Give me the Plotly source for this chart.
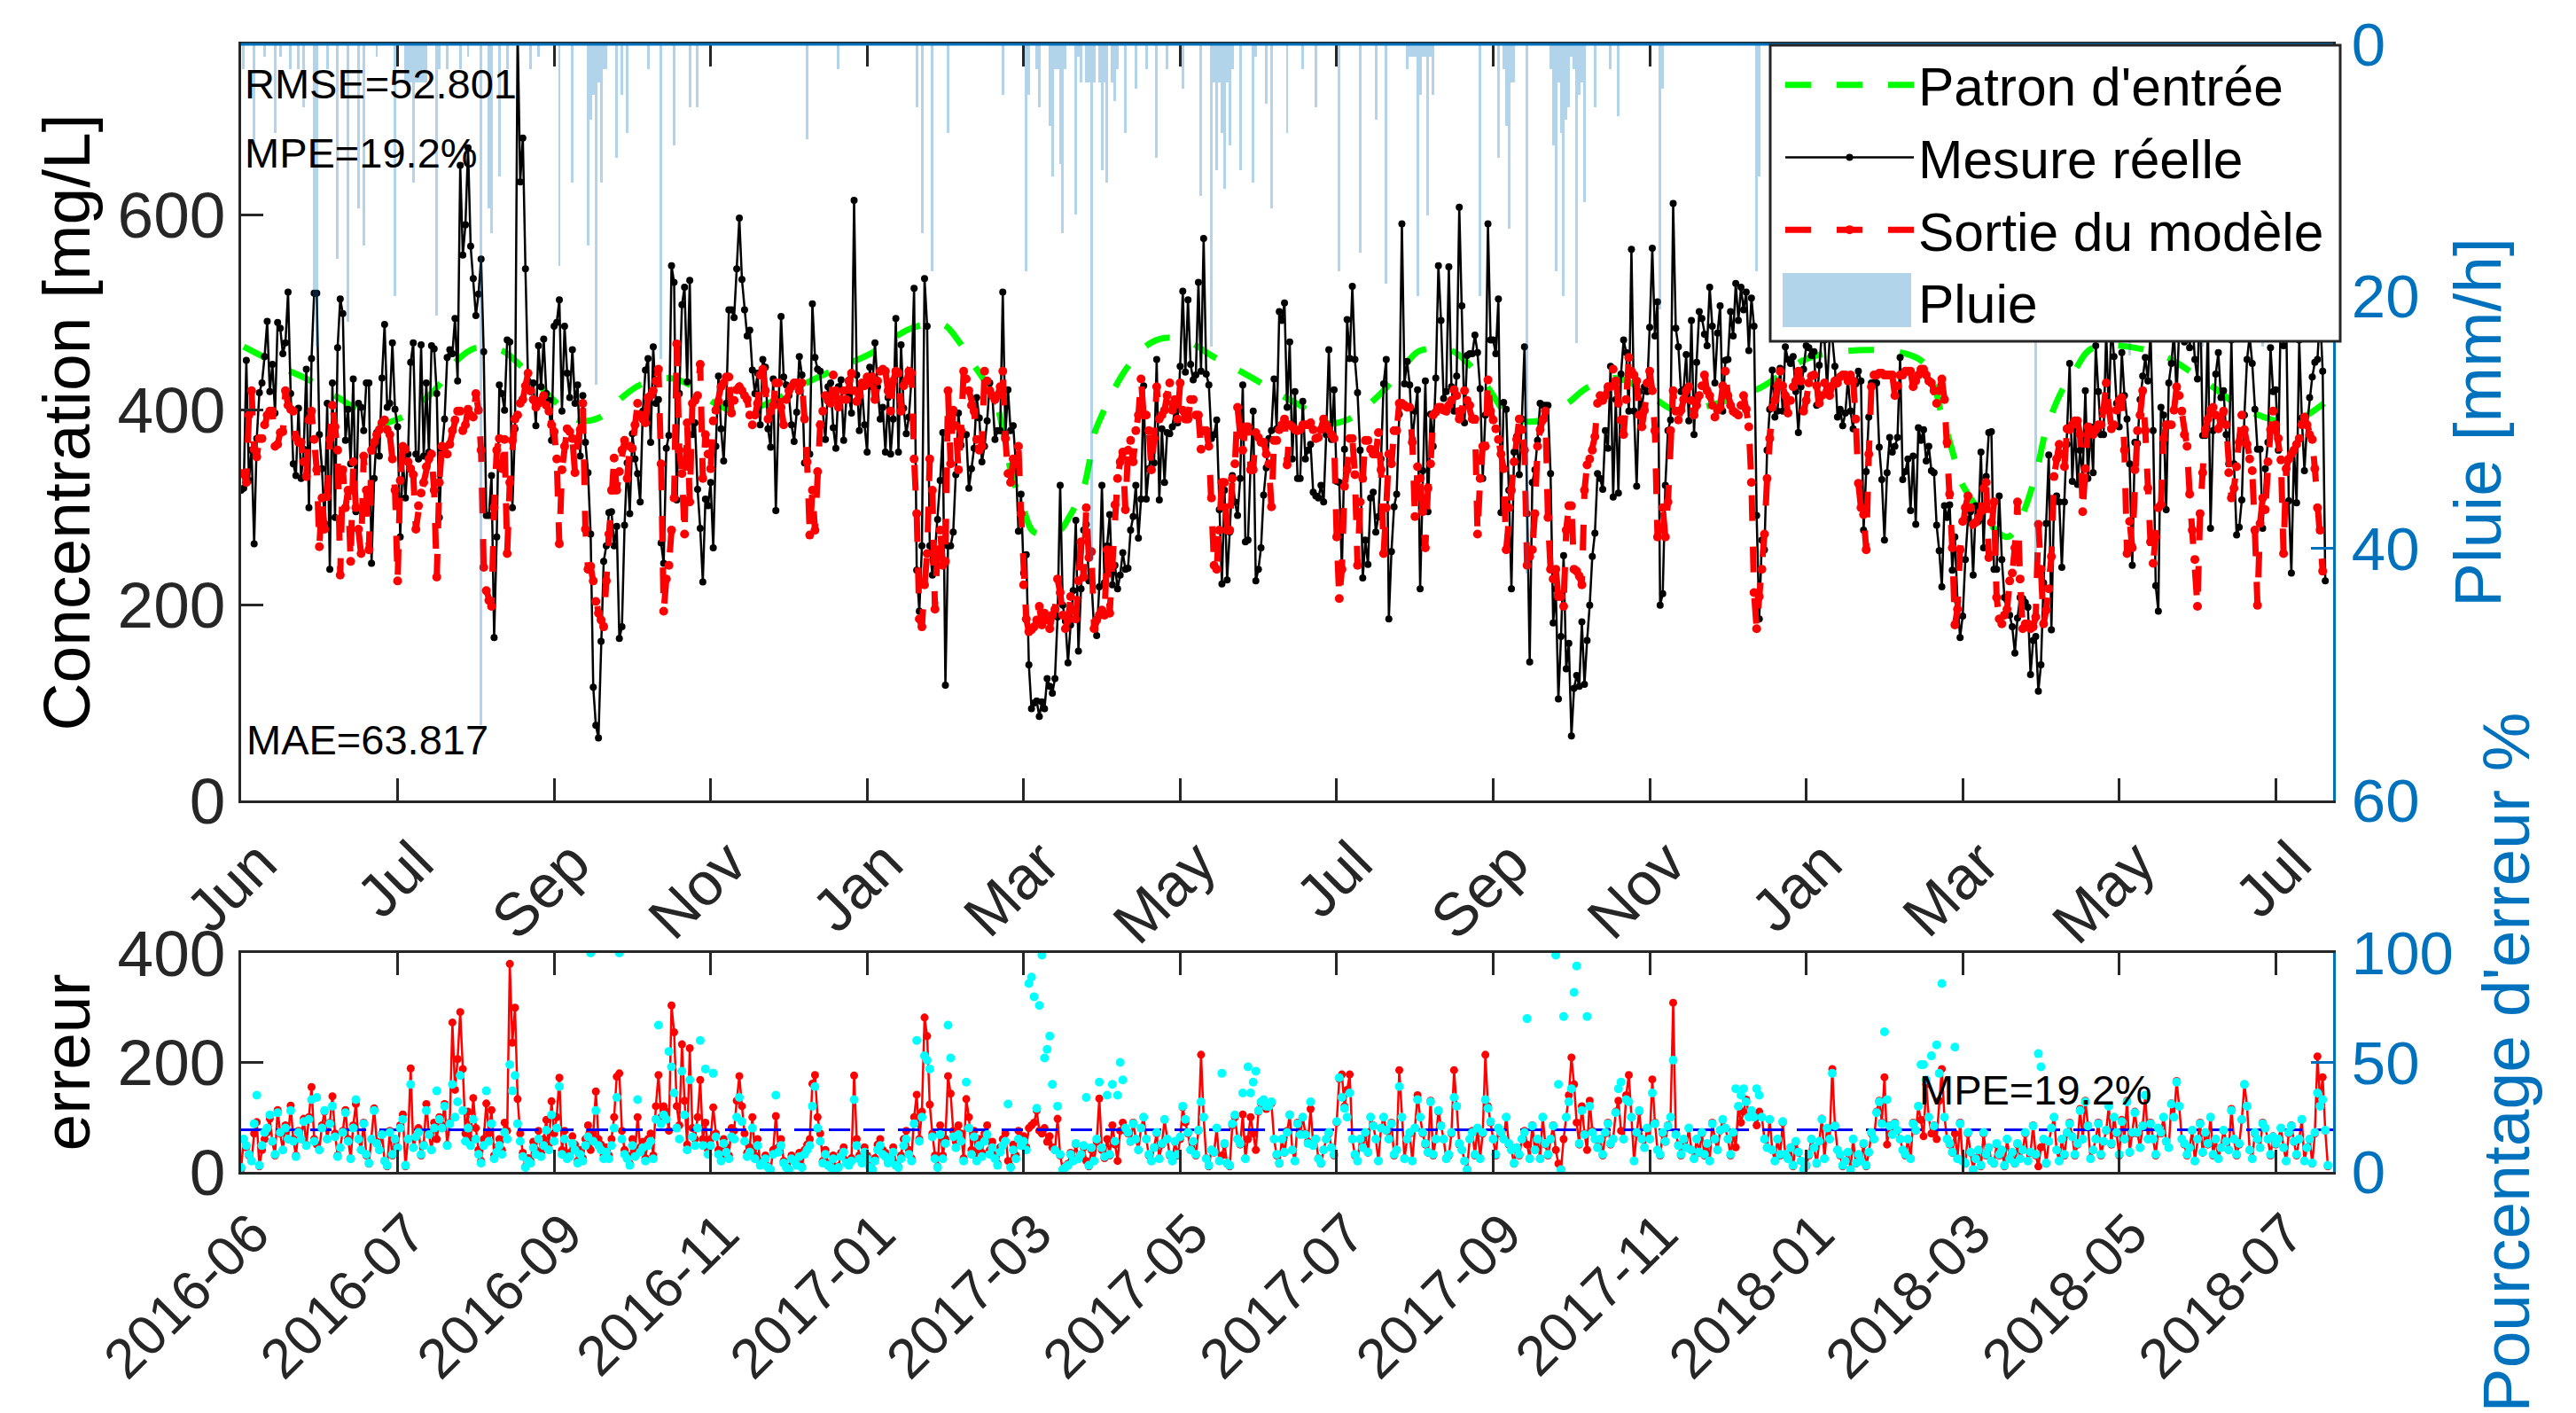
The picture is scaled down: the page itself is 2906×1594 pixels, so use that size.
import plotly.graph_objects as go

TICK_STEP_LABELS_TOP = ["Jun","Jul","Sep","Nov","Jan","Mar","May","Jul","Sep","Nov","Jan","Mar","May","Jul"]
TICK_LABELS_BOTTOM = ["2016-06","2016-07","2016-09","2016-11","2017-01","2017-03","2017-05","2017-07","2017-09","2017-11","2018-01","2018-03","2018-05","2018-07"]
TICK_SAMPLES = [0,60,120,180,240,300,360,420,480,540,600,660,720,780]

mesure_a = [318,320,451,328,359,263,371,418,428,455,
 491,419,447,397,490,484,458,469,521,417,345,
 333,402,330,360,442,300,453,520,520,375,340,284,407,
 237,428,290,464,514,499,369,401,345,432,296,407,
 403,379,428,428,243,330,377,353,433,488,403,
 407,469,401,383,270,350,310,355,449,469,355,
 350,467,353,428,357,466,463,417,290,359,
 391,454,462,458,494,430,651,559,590,669,
 568,535,497,519,555,460,292,292,333,167,
 270,426,417,400,472,470,300,381,790,634,
 679,545,430,419,428,384,466,424,473,417,410,
 369,486,490,513,399,486,438,413,462,407,
 426,353,415,367,336,273,116]
mesure_b = [77,64,163,245,261,295,296,261,281,166,178,282,346,294,376,350,335,306,399,441,453,367,465,407,411,264,243,361,374,548,531,308,417,508,526,429,533,375,387,319,279,224,309,302,326,259,363,435,381,348,407,503,503,495,545,597,534,503,476,482,441,417,438,385,452,444,381,362,432,297,407,496,434,426,415,385,368,398,455,436,346,355,355,509,454,442,440,399,370,424,428,382,361,424,431,369,411,415,397,615,436,379,424,385,357,444,424,469,424,391,403,357,413,355,391,494,357,467,402,376,393,432,525,236,194,261,535,486,261,231,255,288,328,377,118]
mesure_c = [261,261,275,334,397,364,375,375,320,340,361,413,392,347,363,389,428,415,370,379,379,521,375,421,379,384,346,276,314,233,252,139,94,100,102,86,101,94,125,117,110,125,188,323,200,184,141,180,215,287,153,217,277,283,225,225,176,169,219,323,223,261,293,221,241,217,231,254,237,238,277,291,323,269,309,425,309,340,358,346,452,308,381,326,377,376,383,401,387,445,522,439,513,447,431,436,531,440,576,437,426,371,375,390,298,222,318,226,275,333,306,292,330,426,265,267,344,399,225,237,259,313,341,371,379,432,381,501,492,510,403,470,350,419,330]
mesure_d = [330,409,350,359,365,316,312,310,323,306,375,462,370,421,327,326,236,360,493,453,527,452,418,359,228,267,242,310,316,275,291,350,427,452,186,255,301,314,396,591,427,450,426,370,399,421,217,338,430,296,396,363,433,548,492,412,419,547,424,399,435,608,507,387,456,458,458,477,459,422,330,395,591,472,472,458,514,295,408,401,318,217,357,373,334,391,465,294,142,326,339,369,407,405,405,405,335,182,217,104,168,251,135,161,66,115,128,117,183,119,164,200,250,274,335,330,319,379,361,445,311,411,315,437,472,459,399,565,399,322,419,403,424,419,485,566]
mesure_e = [476,511,200,212,323,379,390,612,484,465,419,421,457,389,492,375,449,501,494,478,466,526,486,428,479,507,399,451,452,501,476,530,492,526,503,521,461,515,486,292,186,267,257,359,401,441,393,399,443,399,465,452,448,455,419,377,424,442,466,464,456,460,405,446,480,472,424,474,474,445,393,401,384,397,432,399,381,427,440,430,277,337,393,428,428,428,362,329,267,336,372,357,363,372,454,329,337,350,297,353,283,382,369,380,348,363,338,336,282,256,219,302,290,303,236,270,204,167,189,247,288,296,231,302,286,357,259,332,377,378,237,237,312,247,208]
mesure_f = [205,190,178,151,187,208,207,203,198,129,164,168,112,139,223,284,354,175,306,312,306,239,306,365,448,327,383,324,359,331,420,330,383,336,466,419,375,375,480,399,488,455,407,383,459,415,391,345,241,367,366,411,435,454,430,480,379,220,194,403,395,298,428,448,480,415,484,500,470,510,464,495,452,432,520,374,374,490,279,379,437,459,413,420,375,345,472,345,272,280,308,395,452,476,448,401,360,360,279,340,367,464,419,421,359,510,466,500,307,233,359,305,472,392,338,385,413,434,449,452,501,440,225]
mesure = mesure_a + mesure_b + mesure_c + mesure_d + mesure_e + mesure_f

sortie_a = [335,335,326,395,420,360,352,371,371,385,395,399,399,363,365,377,378,420,405,401,399,372,367,367,347,332,390,399,370,339,260,310,278,312,370,405,383,359,231,339,300,318,245,347,300,278,253,353,318,257,359,367,375,380,387,390,380,375,350,318,225,328,363,360,347,340,334,278,302,315,326,342,350,355,318,229,326,363,362,355,365,379,390,399,399,379,385,401,395,393,417,400,359,239,215,205,199,300,359,371,340,370,253,326,369,391,395,407,411,425,438,420,411,403,407,410,415,405,399,385,378,350,263,339,363,381,378,371,336,369,380,407,278,237,240]
sortie_b = [225,204,192,185,178,225,273,318,351,318,337,359,369,330,363,361,385,407,395,391,387,413,415,420,430,442,345,194,227,241,277,310,468,359,335,273,387,306,407,410,415,447,330,375,355,340,389,400,409,424,428,434,434,397,410,421,424,420,415,411,395,385,395,407,436,442,420,391,399,405,428,428,403,385,411,420,424,428,428,420,428,391,347,272,318,277,337,385,399,415,410,407,436,420,403,411,420,411,430,438,420,409,415,428,425,434,428,434,411,430,440,442,440,420,399,430,440,438,399,425,430,440,438,350,294,186,178,221,253,350,318,196,257,277,241]
sortie_c = [245,420,345,400,384,339,379,440,432,420,405,399,370,359,363,440,430,420,415,411,415,424,440,371,335,326,350,345,363,294,221,186,173,175,178,185,199,180,192,185,176,190,196,227,213,190,176,185,209,195,186,225,265,229,300,249,255,176,185,190,195,190,257,192,241,303,330,347,357,298,359,369,347,379,395,432,395,395,379,339,371,424,391,395,400,415,428,400,411,391,428,400,391,391,411,411,395,395,360,379,379,363,310,241,237,277,326,326,277,277,330,345,403,375,359,383,383,339,339,377,372,367,367,355,345,301,369,369,380,385,391,344,385,383,380]
sortie_d = [379,380,385,385,385,387,380,371,372,380,391,385,380,375,371,270,207,237,322,339,371,371,334,241,306,330,369,369,360,355,355,377,339,253,300,355,345,379,379,407,407,405,403,403,367,291,342,330,296,259,320,345,395,398,403,403,400,399,405,410,421,415,391,400,420,410,405,391,391,273,330,363,363,431,399,390,381,370,355,340,257,300,318,347,370,391,380,359,241,250,257,294,363,380,390,399,290,237,227,237,209,209,199,277,302,302,237,235,230,221,318,344,350,359,373,407,415,410,415,424,424,442,430,407,390,375,411,454,440,436,430,395,383,400,428]
sortie_e = [440,420,379,270,280,300,270,306,379,420,399,390,400,411,420,424,410,395,405,415,425,436,420,415,405,393,400,403,425,440,415,405,399,397,395,405,415,401,383,326,213,176,209,237,273,330,371,403,410,425,440,425,415,397,410,424,430,440,430,399,410,428,435,436,425,407,415,428,420,415,425,430,428,434,436,436,430,436,430,391,325,300,293,257,355,424,436,436,438,438,436,436,436,436,415,425,436,436,440,440,440,424,430,436,442,442,436,430,428,420,407,420,432,411,367,314,259,180,196,257,286,300,312,300,283,285,290,296,320,326,249,285,306,208,186]
sortie_f = [181,190,196,225,233,259,306,227,176,181,181,176,178,188,283,237,181,195,217,250,332,350,365,355,342,381,380,385,389,389,375,296,340,383,380,375,380,385,385,400,428,400,381,385,400,410,413,359,253,286,259,339,379,395,420,379,320,265,243,270,300,303,371,385,385,385,400,424,415,399,375,363,314,277,247,199,294,336,380,391,400,403,395,381,390,399,385,336,310,320,342,367,395,380,365,350,338,277,200,284,310,298,347,380,399,385,371,349,253,340,350,355,359,365,371,385,393,385,375,370,340,300,277,235]
sortie = sortie_a + sortie_b + sortie_c + sortie_d + sortie_e + sortie_f

patron_x = [1,9,18,26,36,43,53,61,70,76,82,90,100,107,117,129,137,146,153,164,172,181,188,200,219,234,242,257,269,275,281,286,290,295,300,304,313,318,323,325,327,330,335,339,346,354,364,372,381,389,399,406,416,424,432,439,447,452,464,470,478,487,499,509,516,527,534,543,550,580,604,644,652,657,660,677,682,688,692,698,703,710,734,751,767,779,786,799]
patron_y = [465,454,441,431,415,403,387,392,410,426,449,464,461,446,418,390,392,413,426,433,426,408,400,405,431,449,459,484,488,471,446,426,403,339,298,275,275,293,321,344,375,395,423,441,464,474,469,456,443,431,415,405,387,390,405,423,449,461,461,449,423,392,390,408,423,433,426,410,400,420,456,451,395,349,323,270,288,334,380,420,441,464,459,433,403,390,387,408]

pluie_x = [1,5,9,13,15,19,22,24,28,29,33,37,41,45,47,52,59,63,64,65,66,67,68,69,70,71,75,76,79,84,87,92,95,96,99,102,111,114,122,127,133,134,135,136,137,138,139,140,144,146,148,156,161,166,172,175,217,229,259,261,265,271,292,301,302,305,306,310,311,314,315,320,321,325,326,330,332,335,339,343,347,351,355,361,368,372,374,376,377,379,383,388,389,393,395,401,407,412,421,429,435,439,447,451,452,455,457,475,482,485,486,493,503,504,505,507,510,512,515,519,525,528,544,545,581,582,688,724,752,775,
 312,313,316,322,324,327,329,331,334,336,373,375,378,380,448,449,450,453,454,456,484,487,488,502,506,508,509,511,513,514]
pluie_y = [2,8.5,1,7,1,2,2,5,20,24,2,17,22,13,16,1,20,3,3,3,11,3,3,3,3,3,21.5,2,2,2,1,54,13,15,10.5,2,2,1,17.6,11,16,6,4,27,3,11,2,2,9,4,7,2,25,8,5,5,7.5,2,5,15,18,7,4,18,4,2,5,6.5,10.5,9.5,15,13.5,1,3,41,10,11,4.5,7,3.5,2,9,2,3.5,12,24,10,7,11.5,8,10,11,1,4.7,13,7,2,5,18,16.5,6,19,2,20,4,13.6,4,20,9,6.5,14.6,42,8,18,3,20,1,23.7,12.5,5,2,5.7,21,3.5,18,10.5,41,24.7,24,24,
 2,2,2,3,3,3,3,3,3,2,3,3,3,2,1,1,1,1,1,1,2,3,3,2,7,6,5,2,4,3]

erreur = [5,60,45,30,20,70,91,10,40,60,72,97,55,30,113,70,40,85,60,121,
 60,30,75,60,97,50,100,155,60,50,40,85,110,60,90,138,70,30,45,75,
 113,60,25,85,124,60,40,90,30,15,60,116,55,40,70,20,10,75,30,60,
 45,85,105,10,60,189,45,65,80,30,50,124,70,40,90,60,100,85,124,50,
 90,273,150,206,292,188,70,110,60,135,80,40,20,60,125,70,113,30,45,60,
 40,90,75,380,236,300,133,70,35,10,25,20,55,40,75,35,60,95,50,129,
 70,100,172,40,75,30,35,65,50,20,40,25,60,85,40,70,147,60,50,30,
 45,30,60,100,174,180,75,40,30,15,60,35,100,45,55,25,60,70,30,120,
 177,100,120,110,75,304,255,120,85,233,130,50,226,80,60,100,168,60,90,40,
 60,118,70,40,25,60,45,30,80,75,130,175,120,70,35,45,100,30,60,15,
 20,30,10,5,40,102,45,60,20,10,5,30,25,15,35,10,40,50,60,161,
 177,100,70,20,40,15,10,30,5,10,35,45,20,15,25,176,60,30,20,45,
 30,10,5,25,50,60,40,35,20,30,45,15,10,30,60,75,40,25,100,141,
 60,110,282,248,123,70,30,10,85,30,60,175,143,75,55,85,70,25,133,100,
 40,75,25,60,35,70,85,40,55,30,15,45,60,70,20,10,50,30,75,60,
 65,45,80,85,90,112,75,70,80,55,65,45,40,97,30,5,10,15,35,20,
 50,25,30,45,20,10,40,20,55,134,40,25,60,30,85,50,20,75,90,75,
 70,55,90,60,40,80,100,60,30,20,45,70,25,50,95,60,30,20,55,30,
 60,118,90,70,40,55,30,75,214,100,25,10,40,35,80,20,30,50,15,10,
 85,100,60,50,105,25,60,100,70,40,110,125,130,115,120,125,60,30,15,60,
 35,75,105,40,20,90,70,100,70,55,115,50,60,25,15,40,60,70,45,30,
 90,170,178,120,150,178,60,30,20,60,45,70,35,100,85,60,20,80,100,75,
 60,90,30,40,186,100,25,60,70,20,80,140,100,70,50,35,130,30,60,110,
 85,60,25,30,70,186,120,50,40,20,5,60,75,30,80,25,70,214,120,90,
 60,30,80,70,60,100,50,40,15,45,30,60,75,50,25,85,40,60,25,100,
 50,30,60,85,40,15,5,60,100,140,209,160,90,50,120,70,40,130,75,60,
 45,60,30,70,90,50,60,110,130,75,60,140,177,100,20,70,110,60,45,80,
 60,169,90,40,30,70,55,85,100,309,70,50,30,60,45,80,40,25,60,35,
 70,30,50,20,90,60,40,75,95,80,60,30,70,45,120,90,110,132,105,110,
 100,85,110,100,60,45,95,40,20,60,30,90,30,25,45,10,55,35,20,5,
 10,30,60,45,15,55,97,25,80,60,188,85,40,30,10,20,35,5,60,15,
 30,20,50,10,35,70,60,110,130,90,173,50,85,70,90,75,60,40,30,60,
 25,90,75,120,95,65,160,100,70,85,60,130,188,100,60,50,35,70,25,90,
 20,15,70,35,5,25,40,10,70,30,45,20,15,50,30,40,10,60,25,35,
 15,50,25,40,70,20,35,85,30,10,45,60,15,55,80,100,40,20,60,30,
 70,90,65,30,50,115,60,130,85,25,40,60,90,30,55,75,120,50,100,70,
 30,95,60,130,35,70,110,70,45,85,140,60,90,60,30,80,70,100,55,45,
 125,100,166,120,60,50,30,45,75,20,60,90,35,70,50,100,30,60,25,45,
 75,55,40,115,60,30,50,95,160,120,40,25,70,60,45,90,80,60,30,65,
 50,60,80,45,20,70,85,55,30,60,95,20,45,60,15,70,211,130,173,75,10]

pourcentage = [2,15,12,8,5,22,35,3,12,18,20,26,14,8,27,18,10,20,15,28,
 14,7,18,15,23,12,24,33,14,34,10,20,28,15,22,30,16,7,11,18,
 27,14,6,20,33,15,10,22,8,4,15,28,13,10,17,5,3,18,8,15,
 11,20,24,3,15,40,11,16,18,8,12,28,17,10,20,37,24,20,30,12,
 22,40,25,32,44,28,14,20,12,24,15,8,4,12,37,14,22,6,9,12,
 8,18,15,49,37,44,22,14,7,2,5,4,11,8,15,7,12,19,10,26,
 14,20,39,8,15,6,7,13,10,4,8,5,12,16,100,14,28,12,10,6,
 9,6,12,20,34,100,15,8,6,3,12,7,33,9,11,5,12,14,6,24,
 67,22,26,24,55,48,36,20,15,46,26,10,42,16,12,20,60,12,47,8,
 12,45,16,8,5,13,9,6,16,15,25,34,23,14,7,9,20,6,12,3,
 4,6,2,1,8,35,9,12,4,2,1,6,5,3,7,2,8,10,12,30,
 39,20,14,4,8,3,2,6,1,2,7,9,4,3,5,33,12,6,4,9,
 6,2,1,5,10,12,8,7,4,6,9,3,2,6,12,15,8,5,22,60,
 14,25,53,51,47,16,6,2,17,6,13,67,52,16,11,17,14,5,41,20,
 8,16,5,12,7,14,17,8,11,6,3,9,12,14,31,2,10,6,15,12,
 14,10,86,89,80,29,76,99,52,56,62,40,10,30,8,1,2,3,8,5,
 13,6,8,12,34,3,11,5,15,41,11,7,35,8,40,14,35,50,42,20,
 18,14,22,15,10,20,25,15,8,5,11,18,6,13,24,15,8,5,14,8,
 16,30,24,18,10,14,8,19,32,25,6,3,10,9,20,5,45,13,4,3,
 22,26,15,13,36,6,48,36,41,46,28,32,33,30,30,32,15,8,4,15,
 9,18,26,10,5,22,17,25,17,13,32,12,15,6,4,10,15,18,11,8,
 23,43,34,29,25,36,15,8,5,15,11,18,9,25,21,15,5,20,25,19,
 15,22,8,10,39,25,6,15,18,5,20,33,25,18,13,9,32,8,15,28,
 21,15,6,8,18,34,30,13,10,5,1,15,18,8,20,6,18,33,29,23,
 15,8,20,18,15,25,13,10,4,11,8,15,18,70,6,21,10,15,6,25,
 13,8,15,21,99,40,1,71,25,32,38,82,94,13,28,17,71,30,18,15,
 11,15,8,18,22,13,15,27,38,41,15,33,32,25,5,18,28,15,11,20,
 15,36,22,10,8,18,14,21,25,51,17,12,8,15,11,20,10,6,15,9,
 18,8,13,5,22,15,10,19,24,20,15,8,18,38,30,35,38,32,25,28,
 25,38,35,25,15,11,24,10,5,15,8,23,8,6,11,3,14,9,5,1,
 3,8,15,11,4,14,24,6,20,15,45,21,10,8,3,5,9,1,15,4,
 8,5,13,3,9,18,15,27,32,22,64,33,21,17,22,19,15,10,8,15,
 6,22,19,30,49,49,42,25,53,21,58,45,86,25,15,13,9,57,6,22,
 5,4,18,9,1,6,10,3,18,8,11,5,4,13,8,10,3,15,6,9,
 4,13,6,10,18,5,9,21,8,54,48,15,4,14,20,25,10,5,15,8,
 18,22,16,8,13,28,15,32,21,6,10,15,22,8,14,19,30,13,25,18,
 8,23,15,32,9,18,27,18,11,21,35,15,22,15,8,20,18,25,14,11,
 31,25,41,30,15,13,8,11,19,5,15,22,9,18,13,25,8,15,6,11,
 19,14,10,28,15,8,13,24,40,30,10,6,18,15,11,22,20,15,8,16,
 13,15,20,11,5,18,21,14,8,15,24,5,11,15,4,18,36,30,33,19,3]

MPE_LEVEL = [19.2, 19.2]
X_LIMITS = [0, 802]

WIDTH, HEIGHT = 2906, 1594
L, R, T, B = 272, 2632, 50, 1322
PAGE = 8  # default page margin of the browser
def px(x): return (x - L) / (R - L)
def py(y): return (B - y) / (B - T)

FONT = "Liberation Sans"
DARK = "#262626"
BLUE = "#0072BD"

fig = go.Figure()
fig.add_trace(go.Scatter(x=patron_x, y=patron_y, name="Patron d'entrée", mode="lines",
    line=dict(color="#00FF00", width=7, dash="29px,29px", shape="spline"), xaxis="x", yaxis="y"))
fig.add_trace(go.Scatter(x=list(range(len(mesure))), y=mesure, name="Mesure réelle", mode="lines+markers",
    line=dict(color="black", width=2.5), marker=dict(color="black", size=8), xaxis="x", yaxis="y"))
fig.add_trace(go.Scatter(x=list(range(len(sortie))), y=sortie, name="Sortie du modèle", mode="lines+markers",
    line=dict(color="#FF0000", width=7, dash="29px,29px"), marker=dict(color="#FF0000", size=10), xaxis="x", yaxis="y"))
fig.add_trace(go.Scatter(x=[None], y=[None], name="Pluie", mode="lines",
    line=dict(color="rgba(0,0,0,0)", width=1), xaxis="x", yaxis="y2"))
fig.add_trace(go.Bar(x=pluie_x, y=pluie_y, width=1, showlegend=False,
    marker=dict(color="rgba(0,114,189,0.3)", line=dict(width=0)), xaxis="x", yaxis="y2"))

fig.add_trace(go.Scatter(x=list(range(len(erreur))), y=erreur, mode="lines+markers", showlegend=False,
    line=dict(color="#FF0000", width=2.5), marker=dict(color="#FF0000", size=9), xaxis="x2", yaxis="y3"))
fig.add_trace(go.Scatter(x=X_LIMITS, y=MPE_LEVEL, mode="lines", showlegend=False,
    line=dict(color="#0000FF", width=3, dash="24px,15px"), xaxis="x2", yaxis="y4"))
fig.add_trace(go.Scatter(x=list(range(len(pourcentage))), y=pourcentage, mode="markers", showlegend=False,
    marker=dict(color="#00FFFF", size=10), xaxis="x2", yaxis="y4"))

def x_axis(labels, anchor, size, shift, standoff):
    return dict(range=X_LIMITS, tickmode="array", tickvals=TICK_SAMPLES, ticktext=labels, tickangle=-45,
        ticks="inside", ticklen=25, tickwidth=3, tickcolor=DARK, showline=True, linecolor=DARK, linewidth=3,
        mirror="ticks", showgrid=False, zeroline=False, anchor=anchor, domain=[0, 1], automargin=False,
        ticklabelshift=shift, ticklabelstandoff=standoff,
        tickfont=dict(family=FONT, size=size, color=DARK))

def y_axis(rng, vals, domain, color, side="left", overlay=None, title=None, size=73, anchor="x", standoff=7, label_standoff=0):
    d = dict(range=rng, tickmode="array", tickvals=vals, ticks="inside", ticklen=25, tickwidth=3, tickcolor=color,
        showline=True, linecolor=color, linewidth=3, showgrid=False, zeroline=False, anchor=anchor, side=side, automargin=False,
        ticklabelstandoff=label_standoff,
        tickfont=dict(family=FONT, size=size, color=color),
        title=dict(text=title, font=dict(family=FONT, size=75, color="black" if color == DARK else color), standoff=standoff))
    if overlay:
        d["overlaying"] = overlay
    else:
        d["domain"] = domain
    return d

top_dom = [py(903), 1]
bot_dom = [0, py(1075)]

fig.update_layout(
    width=WIDTH, height=HEIGHT, autosize=False, paper_bgcolor="white", plot_bgcolor="white",
    margin=dict(l=L - PAGE, r=WIDTH - R + PAGE, t=T - PAGE, b=HEIGHT - B + PAGE, pad=0, autoexpand=False),
    barmode="overlay", bargap=0,
    font=dict(family=FONT, color="black"),
    xaxis=x_axis(TICK_STEP_LABELS_TOP, "y", 68, 20, 0),
    xaxis2=x_axis(TICK_LABELS_BOTTOM, "y3", 63, 13, 4),
    yaxis=y_axis([0, 775], [0, 200, 400, 600], top_dom, DARK, title="Concentration [mg/L]"),
    yaxis2=y_axis([60, 0], [0, 20, 40, 60], None, BLUE, side="right", overlay="y", title="Pluie [mm/h]", size=69, standoff=40, label_standoff=4),
    yaxis3=y_axis([0, 400], [0, 200, 400], bot_dom, DARK, title="erreur", anchor="x2"),
    yaxis4=y_axis([0, 100], [0, 50, 100], None, BLUE, side="right", overlay="y3", title="Pourcentage d'erreur %", anchor="x2", size=69, standoff=34, label_standoff=4),
    legend=dict(x=px(2009), y=1, xanchor="left", yanchor="top", bgcolor="rgba(0,0,0,0)", borderwidth=0,
        font=dict(family=FONT, size=60.5, color="black"), itemwidth=145, traceorder="normal", tracegroupgap=0,
        itemclick=False, itemdoubleclick=False),
    shapes=[
        dict(type="line", xref="paper", yref="paper", x0=0, x1=1, y0=1, y1=1, line=dict(color=BLUE, width=3)),
        dict(type="rect", xref="paper", yref="paper", x0=px(1997), x1=px(2640), y0=py(51), y1=py(385),
             fillcolor="white", line=dict(color=DARK, width=3)),
        dict(type="rect", xref="paper", yref="paper", x0=px(2011), x1=px(2156), y0=py(308), y1=py(369),
             fillcolor="rgba(0,114,189,0.3)", line=dict(width=0)),
    ],
    annotations=[
        dict(text="RMSE=52.801", xref="paper", yref="paper", x=px(274), y=py(95), xanchor="left", yanchor="middle", showarrow=False, font=dict(family=FONT, size=47, color="black")),
        dict(text="MPE=19.2%", xref="paper", yref="paper", x=px(274), y=py(172), xanchor="left", yanchor="middle", showarrow=False, font=dict(family=FONT, size=47, color="black")),
        dict(text="MAE=63.817", xref="paper", yref="paper", x=px(276), y=py(834), xanchor="left", yanchor="middle", showarrow=False, font=dict(family=FONT, size=47, color="black")),
        dict(text="MPE=19.2%", xref="paper", yref="paper", x=px(2163), y=py(1229), xanchor="left", yanchor="middle", showarrow=False, font=dict(family=FONT, size=47, color="black")),
    ],
)
fig.write_html("out.html")
